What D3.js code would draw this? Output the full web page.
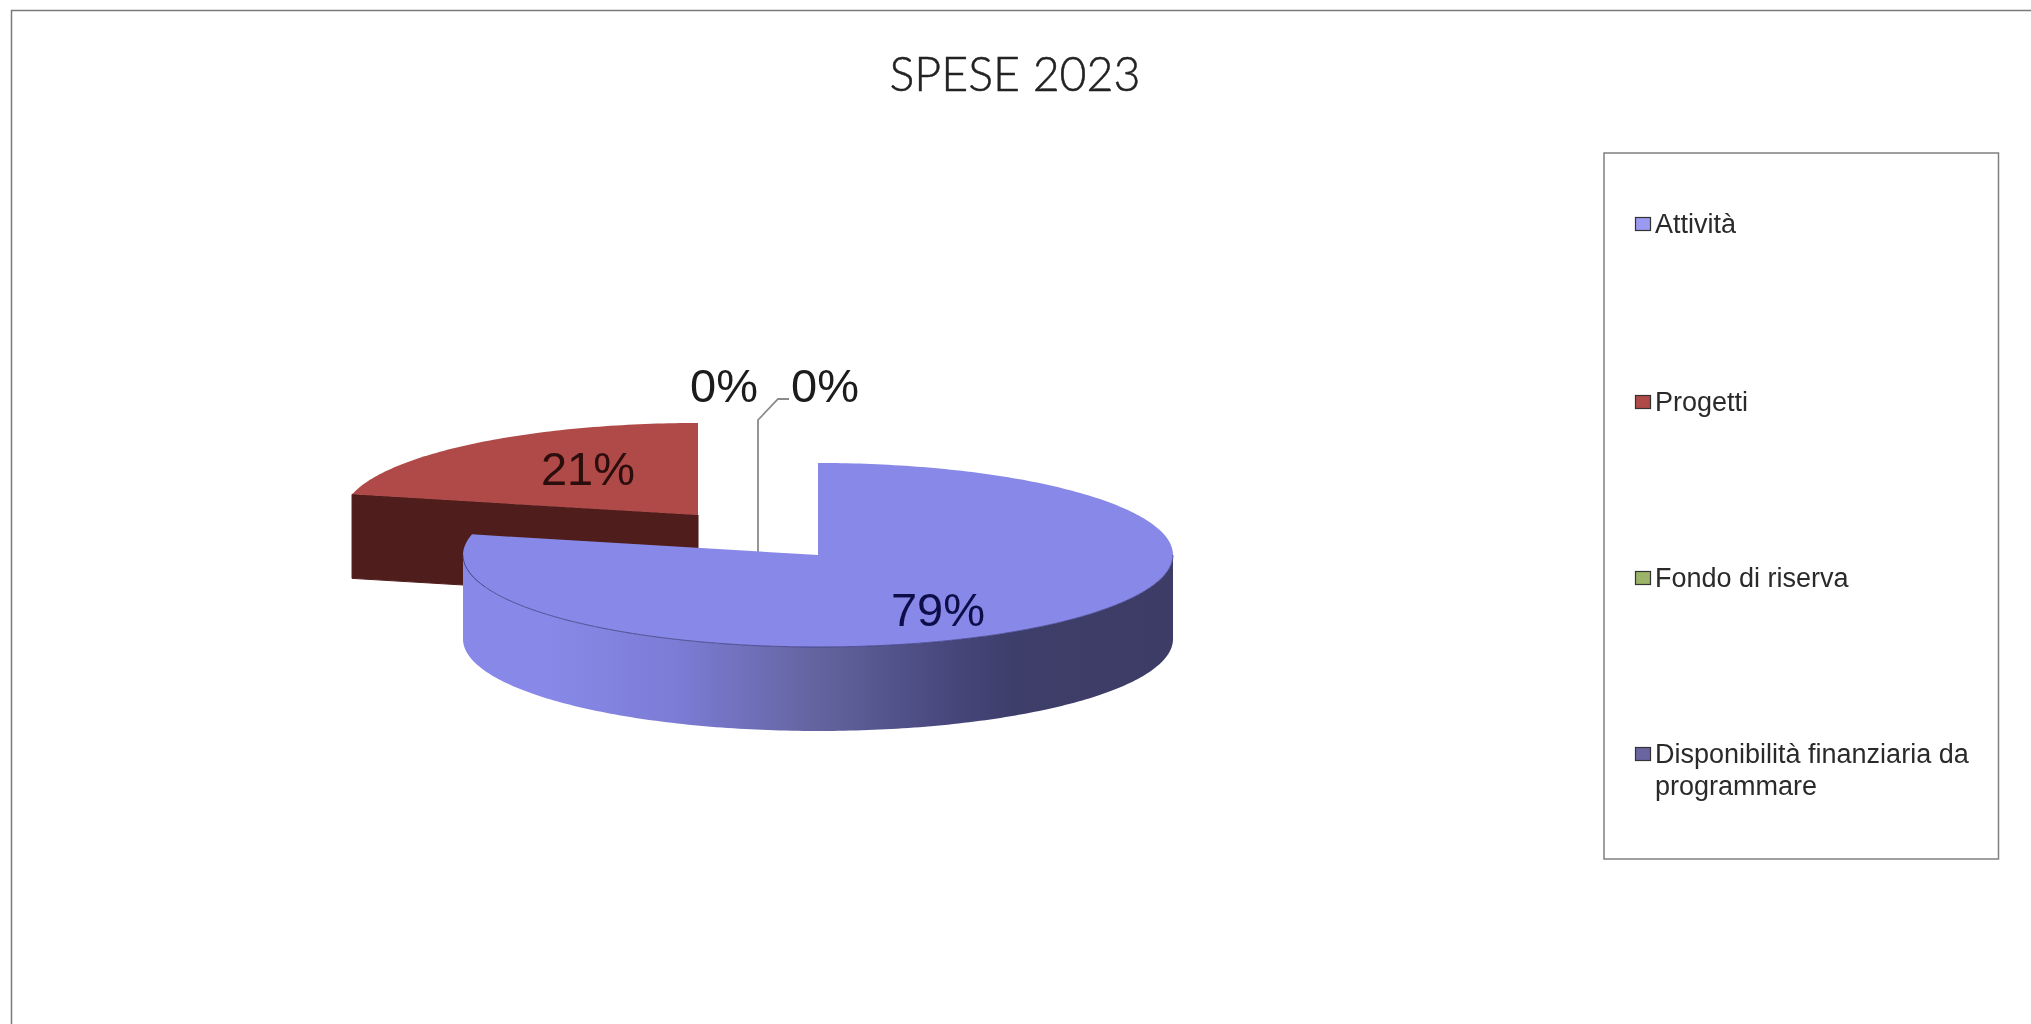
<!DOCTYPE html>
<html><head><meta charset="utf-8">
<script src="https://cdn.jsdelivr.net/npm/d3@7"></script>
<style>html,body{margin:0;padding:0;background:#fff;overflow:hidden}svg{display:block}</style>
</head><body><svg id="c" width="2031" height="1024"></svg>
<script>
const titleText = "SPESE 2023";
const categories = ["Attività","Progetti","Fondo di riserva","Disponibilità finanziaria da programmare"];
const values = [78.6,21.4,0,0];
const labels = ["79%","21%","0%","0%"];
const colors = ["#8888e8","#b04a48","#9bb46a","#6a64a0"];

const svg = d3.select("#c");
const W=2031,H=1024, cx=818, cy=555, rx=355, ry=92, depth=84;
const sans = "'Liberation Sans',Arial,sans-serif";
const defs = svg.append("defs");
defs.append("filter").attr("id","soft").append("feGaussianBlur").attr("stdDeviation",0.5);
const grad = defs.append("linearGradient").attr("id","wall").attr("gradientUnits","userSpaceOnUse")
  .attr("x1",-rx).attr("x2",rx).attr("y1",0).attr("y2",0);
[[0,"#8888e8"],[0.12,"#8888e8"],[0.3,"#7c7cd6"],[0.5,"#63639f"],[0.7,"#45457a"],[0.78,"#3e3e6a"],[1,"#3c3c66"]]
  .forEach(s=>grad.append("stop").attr("offset",s[0]).attr("stop-color",s[1]));

// frame
svg.append("path").attr("d",`M11.5,${H}V10.5H${W}`).attr("fill","none").attr("stroke","#7a7a7a").attr("stroke-width",1.5).attr("filter","url(#soft)");

// title
svg.append("text").attr("x",1015).attr("y",91).attr("text-anchor","middle")
  .attr("font-family","Lato,sans-serif").attr("font-weight",300).attr("font-size",46.5)
  .attr("fill","#222").attr("stroke","#222").attr("stroke-width",0.5).attr("filter","url(#soft)").text(titleText);

// pie
const pie = d3.pie().sort(null).value(d=>d)(values);
const X = d3.scaleLinear().domain([-1,1]).range([-rx,rx]);
const Y = d3.scaleLinear().domain([-1,1]).range([-ry,ry]);
const pt = a=>[X(Math.sin(a)),Y(-Math.cos(a))];
const line = d3.line();
function topPath(a0,a1){const n=Math.max(2,Math.ceil((a1-a0)*60));
  return line([[0,0],...d3.range(n+1).map(i=>pt(a0+(a1-a0)*i/n))])+"Z";}
function outerWall(a0,a1){const n=Math.max(2,Math.ceil((a1-a0)*60));
  const top=d3.range(n+1).map(i=>pt(a0+(a1-a0)*i/n));
  const bot=top.slice().reverse().map(p=>[p[0],p[1]+depth]);
  return line([...top,...bot])+"Z";}
const g = svg.append("g");

// exploded Progetti slice
const red = pie[1];
const gr = g.append("g").attr("transform",`translate(${cx-120},${cy-40})`);
const p0 = pt(red.startAngle);
gr.append("path").attr("d",line([[0,0],p0,[p0[0],p0[1]+depth],[0,depth]])+"Z").attr("fill","#4f1d1b").attr("stroke","#4f1d1b");
gr.append("path").attr("d",topPath(red.startAngle,red.endAngle)).attr("fill",colors[1]);

// leader line for the 0% slice
g.append("path").attr("d",`M758,552V420L778,399H789`).attr("fill","none").attr("stroke","#8a8a8a").attr("stroke-width",1.8);

// Attività slice
const blue = pie[0];
const gb = g.append("g").attr("transform",`translate(${cx},${cy})`);
gb.append("path").attr("d",outerWall(Math.PI/2,3*Math.PI/2)).attr("fill","url(#wall)");
gb.append("path").attr("d",topPath(blue.startAngle,blue.endAngle)).attr("fill",colors[0]);
// rim line where top meets wall
const rim = d3.range(121).map(i=>pt(Math.PI/2+Math.PI*i/120));
gb.append("path").attr("d",line(rim)).attr("fill","none").attr("stroke","#3d3d80").attr("stroke-width",1).attr("opacity",0.8);

// data labels
const labelPos = [[938,625.5],[588,484.5],[724,402],[825,402]];
labels.forEach((t,i)=>{
  svg.append("text").attr("x",labelPos[i][0]).attr("y",labelPos[i][1]).attr("text-anchor","middle")
   .attr("font-family",sans).attr("font-size",47).attr("fill",i===0?"#10104a":i===1?"#2a0a0a":"#1a1a1a").attr("filter","url(#soft)").text(t);
});

// legend
const lg = svg.append("g");
lg.append("rect").attr("x",1604).attr("y",153).attr("width",394.5).attr("height",706).attr("fill","#fff").attr("stroke","#808080").attr("stroke-width",1.5);
const legY=[224,402,578,754];
const legendLines=[["Attività"],["Progetti"],["Fondo di riserva"],["Disponibilità finanziaria da","programmare"]];
categories.forEach((c,i)=>{
  lg.append("rect").attr("x",1635.5).attr("y",legY[i]-6.5).attr("width",15).attr("height",13)
    .attr("fill",["#9a9af0",colors[1],colors[2],colors[3]][i]).attr("stroke","#333").attr("stroke-width",1.2);
  legendLines[i].forEach((t,j)=>{
    lg.append("text").attr("x",1655).attr("y",legY[i]+9+j*32).attr("font-family",sans).attr("font-size",27)
      .attr("fill","#2a2a2a").attr("filter","url(#soft)").text(t);
  });
});
</script></body></html>
